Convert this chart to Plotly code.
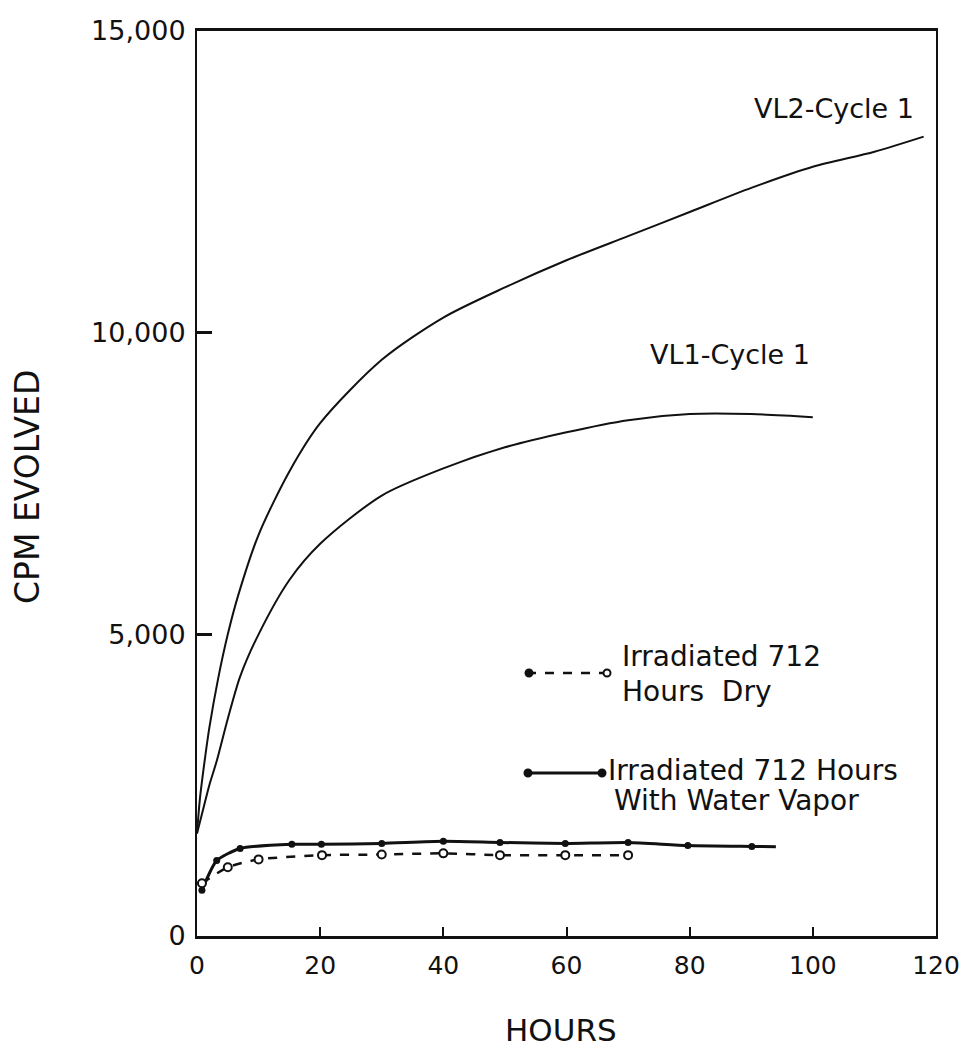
import plotly.graph_objects as go

# ---- data ----
vl2_hours = [0, 0.5, 1.3, 2, 3.4, 5, 6.7, 10, 15, 20, 30, 40, 50, 60, 70, 80, 90, 100, 110, 118]
vl2_cpm = [1700, 2300, 2950, 3450, 4250, 5000, 5650, 6650, 7700, 8500, 9550, 10250, 10750,
           11200, 11600, 12000, 12400, 12750, 13000, 13250]

vl1_hours = [0, 1, 2, 3.2, 5, 7, 10, 15, 20, 30, 40, 50, 60, 70, 80, 90, 100]
vl1_cpm = [1700, 2100, 2500, 2900, 3600, 4300, 5000, 5900, 6500, 7300, 7750, 8100, 8350,
           8550, 8650, 8650, 8600]

wet_hours = [0.8, 3.2, 7, 15.4, 20.2, 30, 40, 49.2, 59.8, 70, 79.7, 90.1]
wet_cpm = [760, 1250, 1450, 1520, 1520, 1535, 1570, 1550, 1535, 1550, 1500, 1485]
wet_line_end_hours = 94
wet_line_end_cpm = 1480

dry_hours = [0.8, 5, 10, 20.3, 30, 40, 49.2, 59.8, 70]
dry_cpm = [875, 1140, 1270, 1340, 1350, 1370, 1340, 1340, 1340]

x_ticks = [0, 20, 40, 60, 80, 100, 120]
y_ticks = [0, 5000, 10000, 15000]
y_tick_text = ["0", "5,000", "10,000", "15,000"]

FONT = "DejaVu Sans"
BLACK = "#111111"

fig = go.Figure()

fig.add_trace(go.Scatter(x=vl2_hours, y=vl2_cpm, mode="lines",
                         line=dict(color=BLACK, width=2, shape="spline", smoothing=0.8),
                         showlegend=False, hoverinfo="skip"))
fig.add_trace(go.Scatter(x=vl1_hours, y=vl1_cpm, mode="lines",
                         line=dict(color=BLACK, width=2, shape="spline", smoothing=0.8),
                         showlegend=False, hoverinfo="skip"))

# water vapor: solid line with filled dots
fig.add_trace(go.Scatter(x=wet_hours + [wet_line_end_hours], y=wet_cpm + [wet_line_end_cpm],
                         mode="lines",
                         line=dict(color=BLACK, width=3, shape="spline", smoothing=0.6),
                         showlegend=False, hoverinfo="skip"))
fig.add_trace(go.Scatter(x=wet_hours, y=wet_cpm, mode="markers",
                         marker=dict(color=BLACK, size=7),
                         showlegend=False, hoverinfo="skip"))

# dry: dashed line with open circles
fig.add_trace(go.Scatter(x=dry_hours, y=dry_cpm, mode="lines+markers",
                         line=dict(color=BLACK, width=2.5, dash="dash", shape="spline", smoothing=0.6),
                         marker=dict(color="white", size=8, line=dict(color=BLACK, width=2)),
                         showlegend=False, hoverinfo="skip"))

# ---- layout geometry (page pixels) ----
W, H = 964, 1048
PL, PR, PT, PB = 197, 936, 31, 936          # plot box
L, T, R, B = PL, PT, W - PR, H - PB
PW, PH = PR - PL, PB - PT


def px(xp):
    return (xp - PL) / PW


def py(yp):
    return (PB - yp) / PH


annotations = []


def text(s, xp, yp, size, xanchor="left", angle=0):
    annotations.append(dict(text=s, x=px(xp), y=py(yp), xref="paper", yref="paper",
                            xanchor=xanchor, yanchor="middle", showarrow=False,
                            textangle=angle, font=dict(family=FONT, size=size, color=BLACK)))


text("VL2-Cycle 1", 916, 108, 27, xanchor="right")
text("VL1-Cycle 1", 812, 355, 27, xanchor="right")
text("Irradiated 712", 620, 657, 28)
text("Hours  Dry", 620, 692, 28)
text("Irradiated 712 Hours", 606, 770, 28)
text("With Water Vapor", 612, 800, 28)
text("CPM EVOLVED", 28, 487, 33, xanchor="center", angle=-90)
text("HOURS", 561, 1030, 31, xanchor="center")

shapes = []
# legend samples
shapes.append(dict(type="line", xref="paper", yref="paper", x0=px(527), x1=px(607), y0=py(673), y1=py(673),
                   line=dict(color=BLACK, width=2.5, dash="dash")))
shapes.append(dict(type="line", xref="paper", yref="paper", x0=px(528), x1=px(602), y0=py(773), y1=py(773),
                   line=dict(color=BLACK, width=3)))


def dot(xp, yp, filled=True):
    shapes.append(dict(type="circle", xref="paper", yref="paper", xsizemode="pixel", ysizemode="pixel",
                       xanchor=px(xp), yanchor=py(yp), x0=-3.5, x1=3.5, y0=-3.5, y1=3.5,
                       fillcolor=BLACK if filled else "white", line=dict(color=BLACK, width=2)))


dot(529, 673, True)
dot(607, 673, False)
dot(528, 773, True)
dot(602, 773, True)

fig.update_layout(
    width=W, height=H,
    margin=dict(l=L, r=R, t=T, b=B, pad=0, autoexpand=False),
    paper_bgcolor="white", plot_bgcolor="white",
    showlegend=False,
    annotations=annotations,
    shapes=shapes,
    font=dict(family=FONT, color=BLACK),
)
fig.update_xaxes(range=[0, 120], tickvals=x_ticks, ticks="inside", ticklen=9, tickwidth=1.5,
                 tickcolor=BLACK, showgrid=False, zeroline=False, showline=True, mirror=True,
                 linecolor=BLACK, linewidth=3, tickfont=dict(family=FONT, size=25, color=BLACK),
                 ticklabelstandoff=5, automargin=False)
fig.update_yaxes(range=[0, 15000], tickvals=y_ticks, ticktext=y_tick_text, ticks="inside", ticklen=15,
                 tickwidth=2.5, tickcolor=BLACK, showgrid=False, zeroline=False, showline=True,
                 mirror=True, linecolor=BLACK, linewidth=2, tickfont=dict(family=FONT, size=27, color=BLACK),
                 ticklabelstandoff=4, automargin=False)

fig.write_html("out.html", config={"displayModeBar": False},
               post_script="document.body.style.margin='0';document.body.style.overflow='hidden';")
